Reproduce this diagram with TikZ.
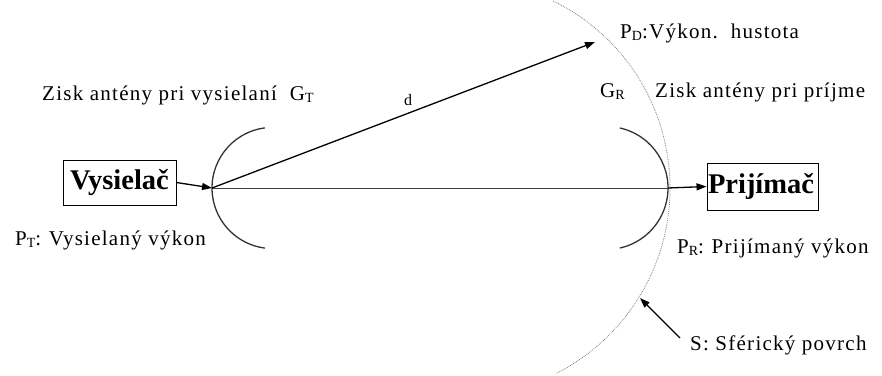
\documentclass[tikz,border=0pt]{standalone}
\usepackage{fontspec}
\setmainfont{Liberation Serif}
\newfontfamily\lblfont{Liberation Serif}[LetterSpace=6]
\usetikzlibrary{arrows.meta}
\newcommand\sbs[1]{\raisebox{-2pt}{\fontsize{14}{14}\selectfont #1}}
\begin{document}
\begin{tikzpicture}[x=1pt,y=-1pt,
  lbl/.style={anchor=base west, inner sep=0pt, font=\lblfont\fontsize{21}{24}\selectfont},
  box/.style={draw, line width=0.9pt, inner sep=0pt, font=\fontsize{28.5}{30}\selectfont\bfseries},
  ant/.style={draw=black!80, line width=1.3pt},
  arr/.style={line width=1.3pt, -{Triangle[length=10pt,width=7pt]}},
  sphere/.style={draw=black!50, densely dotted, line width=0.8pt},
]
\useasboundingbox (0,0) rectangle (882,375);

% boxes
\node[box, minimum width=113pt, minimum height=45pt] (vys) at (119.5,182.5) {Vysielač};
\node[box, minimum width=111pt, minimum height=47pt, text width=109pt, align=left, inner xsep=1pt] (prij) at (762.5,186.5) {Prijímač};

% key points
\coordinate (tx) at (212,188);
\coordinate (rxv) at (668,188);
\coordinate (tc) at (272.6,188);
\coordinate (rc) at (606.5,188);
\coordinate (sc) at (462,188);
\coordinate (dtip) at (595,42);
\coordinate (sp1) at (680,338);
\coordinate (sp2) at (640,298);

% spherical surface
\draw[sphere] (sc) ++(64:208pt) arc[start angle=64, end angle=-63, radius=208pt];

% antennas
\draw[ant] (tc) ++(97.3:60.6pt) arc[start angle=97.3, end angle=262.7, radius=60.6pt];
\draw[ant] (rc) ++(77.5:61.5pt) arc[start angle=77.5, end angle=-77.5, radius=61.5pt];

% connectors
\draw[black!75, line width=0.8pt] (tx) -- (rxv);
\draw[arr] (vys.east) -- (tx);
\draw[arr] (rxv) -- (prij.west);
\draw[arr] (tx) -- (dtip);
\draw[arr] (sp1) -- (sp2);

% labels
\node[lbl] (zt) at (42,100) {Zisk antény pri vysielaní\ \ G\sbs{T}};
\node[lbl] (pt) at (15,245) {P\sbs{T}:\hspace{-1pt} Vysielaný výkon};
\node[lbl, font=\lblfont\fontsize{16}{18}\selectfont] (dl) at (404,105) {d};
\node[lbl] (pd) at (620,38) {P\sbs{D}:Výkon.\ \ hustota};
\node[lbl] (gr) at (600,97) {G\sbs{R}};
\node[lbl] (zr) at (655,97) {Zisk antény pri príjme};
\node[lbl] (pr) at (677,253) {P\sbs{R}:\hspace{-1pt} Prijímaný výkon};
\node[lbl] (sl) at (690,350) {S: Sférický povrch};
\end{tikzpicture}
\end{document}
